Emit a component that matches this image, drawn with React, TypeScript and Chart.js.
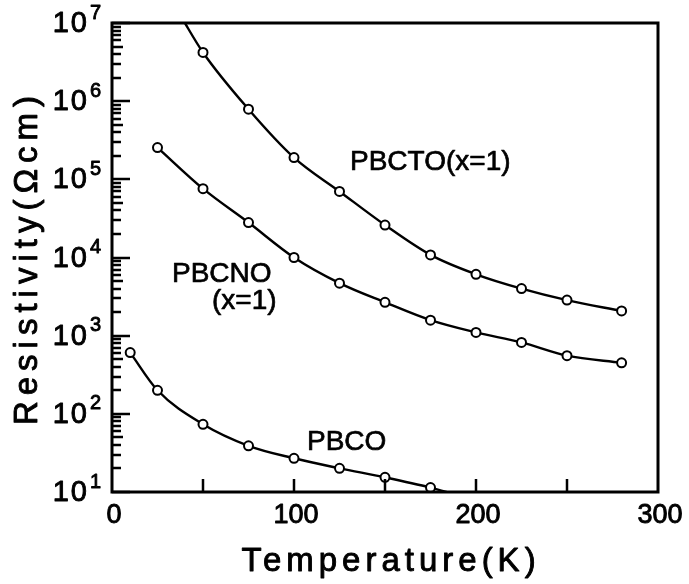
import { useEffect, useRef } from 'react';
import { Chart, registerables } from 'chart.js';

Chart.register(...registerables);

// ---- data ----
// PBCTO (x=1)
const pbctoTemps = [50, 75, 100, 125, 150, 175, 200, 225, 250, 280];
const pbctoRes = [4.2e6, 7.9e5, 1.9e5, 7.0e4, 2.6e4, 1.08e4, 6.1e3, 4.0e3, 2.85e3, 2.07e3];
// curve continues above the plot top before the first marker
const pbctoLeadTemps = [38];
const pbctoLeadRes = [1.2e7];

// PBCNO (x=1)
const pbcnoTemps = [25, 50, 75, 100, 125, 150, 175, 200, 225, 250, 280];
const pbcnoRes = [2.55e5, 7.6e4, 2.8e4, 1.0e4, 4.7e3, 2.67e3, 1.58e3, 1.1e3, 8.2e2, 5.55e2, 4.5e2];

// PBCO
const pbcoTemps = [10, 25, 50, 75, 100, 125, 150, 175];
const pbcoRes = [607, 200, 73.5, 39, 27, 20.1, 15.4, 11.4];
// curve continues below the plot bottom after the last marker
const pbcoTailTemps = [188];
const pbcoTailRes = [9.4];

// axes
const xTickLabels = [0, 100, 200, 300];
const xInnerTicks = [50, 100, 150, 200, 250];
const yDecadeExponents = [1, 2, 3, 4, 5, 6, 7];

const FONT = '"Liberation Sans", Arial, sans-serif';

function buildSeries(
  leadT: number[], leadR: number[],
  t: number[], r: number[],
  tailT: number[], tailR: number[]
) {
  const data: { x: number; y: number }[] = [];
  const radius: number[] = [];
  leadT.forEach((v, i) => { data.push({ x: v, y: leadR[i] }); radius.push(0); });
  t.forEach((v, i) => { data.push({ x: v, y: r[i] }); radius.push(4.5); });
  tailT.forEach((v, i) => { data.push({ x: v, y: tailR[i] }); radius.push(0); });
  return { data, radius };
}

function heavyText(ctx: CanvasRenderingContext2D, text: string, x: number, y: number) {
  ctx.fillText(text, x, y);
  ctx.strokeText(text, x, y);
}

const framePlugin = {
  id: 'frameAndLabels',
  afterDraw(chart: any) {
    const ctx: CanvasRenderingContext2D = chart.ctx;
    const area = chart.chartArea;
    const xs = chart.scales.x;
    const ys = chart.scales.y;
    const left = area.left;
    const right = area.right;
    const top = area.top;
    const bottom = area.bottom;
    ctx.save();
    ctx.setLineDash([]);
    ctx.globalAlpha = 1;
    ctx.strokeStyle = '#000';
    ctx.fillStyle = '#000';

    // frame
    ctx.lineWidth = 3;
    ctx.strokeRect(left, top, right - left, bottom - top);

    // y ticks (inward from the left edge)
    ctx.lineWidth = 2.5;
    ctx.beginPath();
    for (let e = 1; e <= 7; e++) {
      for (let m = 1; m <= 9; m++) {
        if (e === 7 && m > 1) break;
        const py = Math.round(ys.getPixelForValue(m * Math.pow(10, e)));
        const len = m === 1 ? 18 : m === 5 ? 11 : 9;
        ctx.moveTo(left, py);
        ctx.lineTo(left + len, py);
      }
    }
    // x ticks (inward from the bottom edge)
    xInnerTicks.forEach((t) => {
      const px = Math.round(xs.getPixelForValue(t));
      ctx.moveTo(px, bottom);
      ctx.lineTo(px, bottom - 13);
    });
    ctx.stroke();

    ctx.lineWidth = 0.9;
    ctx.lineJoin = 'round';

    // x tick labels
    ctx.font = `27px ${FONT}`;
    ctx.textAlign = 'center';
    ctx.textBaseline = 'middle';
    xTickLabels.forEach((t) => {
      heavyText(ctx, String(t), xs.getPixelForValue(t) + 2, bottom + 24);
    });

    // y tick labels 10^n
    yDecadeExponents.forEach((e) => {
      const py = ys.getPixelForValue(Math.pow(10, e));
      ctx.font = `29px ${FONT}`;
      ctx.textAlign = 'right';
      ctx.textBaseline = 'middle';
      (ctx as any).letterSpacing = '2px';
      heavyText(ctx, '10', left - 23, py + 1);
      (ctx as any).letterSpacing = '0px';
      ctx.font = `20px ${FONT}`;
      ctx.textAlign = 'left';
      heavyText(ctx, String(e), left - 22, py - 10);
    });

    // axis titles
    ctx.font = `33px ${FONT}`;
    (ctx as any).letterSpacing = '5px';
    ctx.textAlign = 'center';
    ctx.textBaseline = 'middle';
    heavyText(ctx, 'Temperature(K)', (left + right) / 2 + 6, bottom + 70);
    ctx.save();
    ctx.translate(28, (top + bottom) / 2);
    ctx.rotate(-Math.PI / 2);
    (ctx as any).letterSpacing = '6px';
    heavyText(ctx, 'Resistivity(\u03A9cm)', 0, 0);
    ctx.restore();
    (ctx as any).letterSpacing = '0px';

    // series annotations
    ctx.font = `28px ${FONT}`;
    ctx.textAlign = 'left';
    ctx.textBaseline = 'middle';
    ctx.lineWidth = 0.7;
    heavyText(ctx, 'PBCTO(x=1)', left + 238, top + 139);
    heavyText(ctx, 'PBCNO', left + 60, top + 251);
    heavyText(ctx, '(x=1)', left + 100, top + 278);
    heavyText(ctx, 'PBCO', left + 195, top + 419);

    ctx.restore();
  },
};

export default function App() {
  const ref = useRef<HTMLCanvasElement | null>(null);

  useEffect(() => {
    document.body.style.margin = '0';
    const canvas = ref.current;
    if (!canvas) return;

    const s1 = buildSeries(pbctoLeadTemps, pbctoLeadRes, pbctoTemps, pbctoRes, [], []);
    const s2 = buildSeries([], [], pbcnoTemps, pbcnoRes, [], []);
    const s3 = buildSeries([], [], pbcoTemps, pbcoRes, pbcoTailTemps, pbcoTailRes);

    const common = {
      borderColor: '#000',
      borderWidth: 2.4,
      pointBackgroundColor: '#fff',
      pointBorderColor: '#000',
      pointBorderWidth: 2,
      pointStyle: 'circle',
      cubicInterpolationMode: 'monotone' as const,
      fill: false,
    };

    const chart = new Chart(canvas, {
      type: 'line',
      data: {
        datasets: [
          { label: 'PBCTO(x=1)', data: s1.data, pointRadius: s1.radius, ...common },
          { label: 'PBCNO(x=1)', data: s2.data, pointRadius: s2.radius, ...common },
          { label: 'PBCO', data: s3.data, pointRadius: s3.radius, ...common },
        ],
      },
      options: {
        animation: false,
        responsive: false,
        events: [],
        layout: { padding: { left: 112, right: 31, top: 23, bottom: 92 } },
        plugins: { legend: { display: false }, tooltip: { enabled: false } },
        scales: {
          x: { type: 'linear', min: 0, max: 300, display: false },
          y: { type: 'logarithmic', min: 10, max: 1e7, display: false },
        },
      },
      plugins: [framePlugin],
    });

    return () => chart.destroy();
  }, []);

  return (
    <div style={{ width: 689, height: 584, background: '#fff' }}>
      <canvas ref={ref} width={689} height={584} style={{ display: 'block' }} />
    </div>
  );
}
